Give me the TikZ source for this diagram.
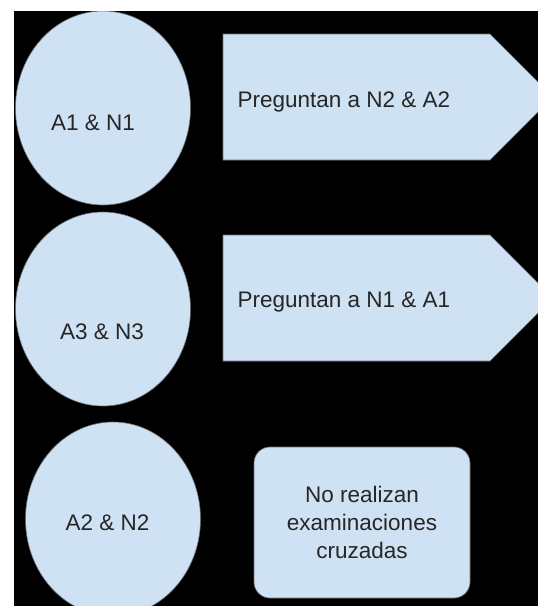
\documentclass[tikz,border=0pt]{standalone}
\usepackage{fontspec}
\setmainfont{Liberation Sans}
\usepackage{xcolor}
\usetikzlibrary{shapes.geometric}
\definecolor{paleblue}{HTML}{CFE2F3}
\definecolor{rimgray}{HTML}{6B6F75}

\begin{document}
\begin{tikzpicture}[x=1pt, y=-1pt,
	blob/.style={ellipse, fill=paleblue, draw=rimgray, line width=0.6, minimum width=175, minimum height=194, inner sep=0},
	lbl/.style={anchor=base, font=\fontsize{22.5}{28}\selectfont, text=black!85},
	boxy/.style={rectangle, rounded corners=16, fill=paleblue, draw=rimgray, line width=0.6, minimum width=216, minimum height=151, align=center, font=\fontsize{22.5}{28}\selectfont, text=black!85}]
	\fill[white] (0,0) rectangle (538,606);
	\fill[black] (13.7,11) rectangle (538,606);
	\clip (13.7,11) rectangle (538,606);

	% circles
	\node[blob] (c1) at (103,108) {};
	\node[blob] (c2) at (103,309) {};
	\node[blob] (c3) at (113,519) {};

	% arrows to the right
	\filldraw[fill=paleblue, draw=rimgray, line width=0.6] (223,34) -- (490,34) -- (553,97) -- (490,160) -- (223,160) -- cycle;
	\filldraw[fill=paleblue, draw=rimgray, line width=0.6] (223,235) -- (490,235) -- (553,298) -- (490,361) -- (223,361) -- cycle;

	\node[boxy] (nr) at (362,522.5) {No realizan\\examinaciones\\cruzadas};

	\node[lbl] (t1) at (93,130) {A1 \& N1};
	\node[lbl] (t2) at (102,339) {A3 \& N3};
	\node[lbl] (t3) at (107.5,530) {A2 \& N2};
	\node[lbl, anchor=base west] (p1) at (234,107) {Preguntan a N2 \& A2};
	\node[lbl, anchor=base west] (p2) at (234,307) {Preguntan a N1 \& A1};
\end{tikzpicture}
\end{document}
